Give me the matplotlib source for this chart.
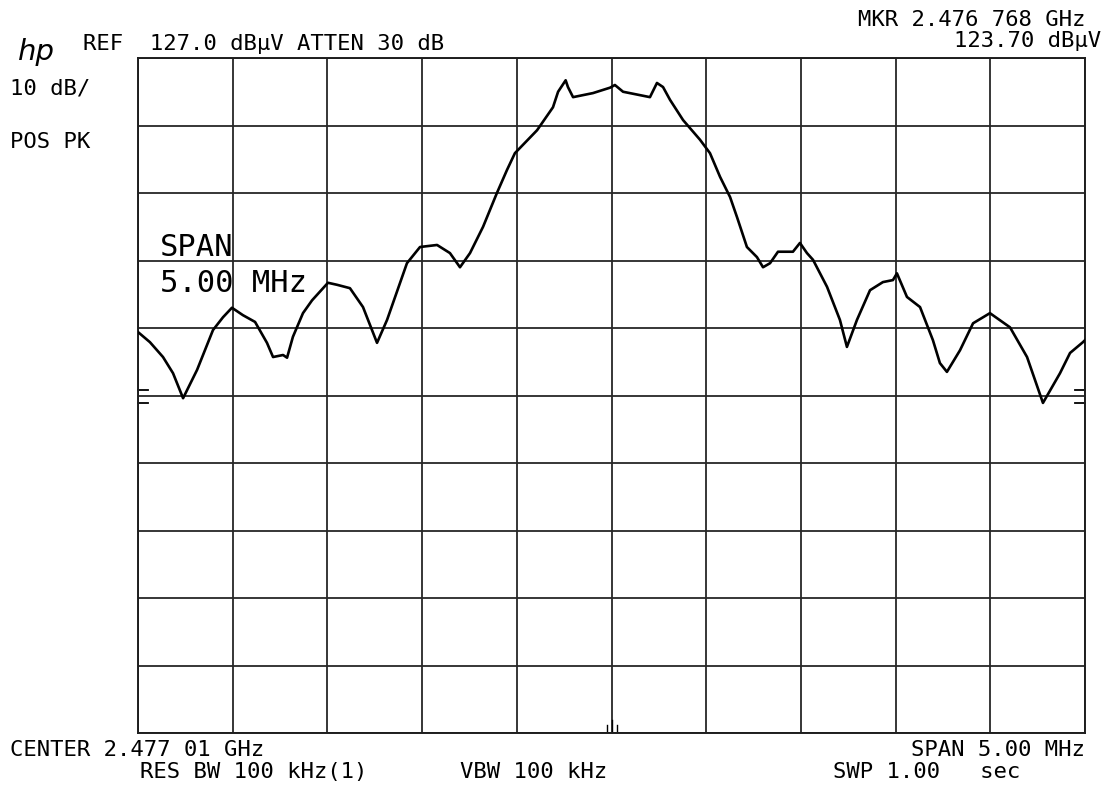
import matplotlib
matplotlib.use("Agg")
import matplotlib.pyplot as plt
import numpy as np

# ---- data ----
center_ghz = 2.47701
span_mhz = 5.0
ref_level = 127.0
db_per_div = 10.0

freq_offset_mhz = [
    -2.500, -2.437, -2.368, -2.315, -2.262, -2.188, -2.104, -2.051, -2.004, -1.946,
    -1.882, -1.819, -1.787, -1.734, -1.713, -1.682, -1.629, -1.581, -1.497, -1.449,
    -1.381, -1.312, -1.238, -1.185, -1.080, -1.011, -0.921, -0.853, -0.800, -0.747,
    -0.678, -0.605, -0.552, -0.510, -0.393, -0.309, -0.282, -0.242, -0.230, -0.203,
    -0.098, -0.008, 0.018, 0.061, 0.150, 0.203, 0.240, 0.272, 0.309, 0.378,
    0.467, 0.520, 0.573, 0.626, 0.663, 0.715, 0.768, 0.800, 0.837, 0.879,
    0.958, 0.995, 1.032, 1.064, 1.138, 1.206, 1.243, 1.296, 1.365, 1.433,
    1.486, 1.507, 1.560, 1.629, 1.697, 1.734, 1.771, 1.840, 1.909, 1.998,
    2.104, 2.194, 2.278, 2.368, 2.421, 2.489, 2.500,
]
level_dbuv = [
    86.4, 84.9, 82.7, 80.3, 76.6, 80.8, 86.7, 88.6, 90.0, 88.9,
    87.9, 84.8, 82.7, 83.0, 82.6, 85.7, 89.2, 91.1, 93.7, 93.4,
    92.9, 90.1, 84.8, 88.2, 96.6, 99.0, 99.3, 98.1, 96.0, 98.1,
    102.0, 107.0, 110.4, 112.9, 116.3, 119.7, 122.0, 123.7, 122.7, 121.2,
    121.8, 122.6, 123.0, 122.0, 121.5, 121.2, 123.3, 122.7, 120.8, 117.8,
    114.9, 112.9, 109.4, 106.4, 103.4, 99.0, 97.5, 96.0, 96.6, 98.3,
    98.3, 99.6, 98.1, 97.1, 93.1, 88.2, 84.2, 88.2, 92.6, 93.8,
    94.1, 95.1, 91.6, 90.1, 85.2, 81.8, 80.5, 83.7, 87.7, 89.2,
    87.1, 82.7, 75.9, 80.3, 83.3, 84.9, 85.2,
]

header_left = "REF  127.0 dB\u00b5V ATTEN 30 dB"
header_mkr = "MKR 2.476 768 GHz"
header_mkr_level = "123.70 dB\u00b5V"
scale_label = "10 dB/"
detector_label = "POS PK"
span_overlay = ["SPAN", "5.00 MHz"]
footer_center = "CENTER 2.477 01 GHz"
footer_span = "SPAN 5.00 MHz"
footer_rbw = "RES BW 100 kHz(1)"
footer_vbw = "VBW 100 kHz"
footer_swp = "SWP 1.00   sec"

# ---- figure ----
W, H = 1103, 787
fig = plt.figure(figsize=(W / 100, H / 100), dpi=100)
fig.patch.set_facecolor("white")

ax_l, ax_r, ax_t, ax_b = 138, 1085, 58, 733
ax = fig.add_axes([ax_l / W, 1 - ax_b / H, (ax_r - ax_l) / W, (ax_b - ax_t) / H])

x0, x1 = -span_mhz / 2, span_mhz / 2
y1 = ref_level
y0 = ref_level - 10 * db_per_div
ax.set_xlim(x0, x1)
ax.set_ylim(y0, y1)
ax.set_xticks(np.linspace(x0, x1, 11))
ax.set_yticks(np.linspace(y0, y1, 11))
ax.tick_params(left=False, bottom=False, labelleft=False, labelbottom=False)
ax.grid(True, color="#262626", linewidth=1.3, linestyle="-")
for s in ax.spines.values():
    s.set_color("#1e1e1e")
    s.set_linewidth(1.4)

ax.plot(freq_offset_mhz, level_dbuv, color="black", linewidth=1.9,
        solid_joinstyle="round", zorder=3)

# small display marks at edges
for yf in (0.508, 0.489):
    ax.plot([0.0, 0.011], [yf, yf], transform=ax.transAxes, color="black", lw=1.3, clip_on=False)
    ax.plot([0.989, 1.0], [yf, yf], transform=ax.transAxes, color="black", lw=1.3, clip_on=False)
# small tick marks at bottom centre
for xf, hgt in ((0.4955, 0.012), (0.5005, 0.02), (0.5055, 0.012)):
    ax.plot([xf, xf], [0, hgt], transform=ax.transAxes, color="black", lw=1.0)

# ---- text ----
mono = "DejaVu Sans Mono"
fs = 16

def px(x, y):
    return x / W, 1 - y / H

fig.text(*px(18, 52), "hp", fontsize=21, style="italic", family="DejaVu Sans",
         va="center", ha="left")
fig.text(*px(83, 44), header_left, fontsize=fs, family=mono, va="center", ha="left")
fig.text(*px(1085, 20), header_mkr, fontsize=fs, family=mono, va="center", ha="right")
fig.text(*px(1101, 41), header_mkr_level, fontsize=fs, family=mono, va="center", ha="right")
fig.text(*px(10, 88), scale_label, fontsize=fs, family=mono, va="center", ha="left")
fig.text(*px(10, 142), detector_label, fontsize=fs, family=mono, va="center", ha="left")
fig.text(*px(160, 247), span_overlay[0], fontsize=22, family=mono, va="center", ha="left")
fig.text(*px(160, 283), span_overlay[1], fontsize=22, family=mono, va="center", ha="left")
fig.text(*px(10, 750), footer_center, fontsize=fs, family=mono, va="center", ha="left")
fig.text(*px(1085, 750), footer_span, fontsize=fs, family=mono, va="center", ha="right")
fig.text(*px(140, 772), footer_rbw, fontsize=fs, family=mono, va="center", ha="left")
fig.text(*px(460, 772), footer_vbw, fontsize=fs, family=mono, va="center", ha="left")
fig.text(*px(833, 772), footer_swp, fontsize=fs, family=mono, va="center", ha="left")

fig.savefig("out.png", dpi=100, facecolor="white")
